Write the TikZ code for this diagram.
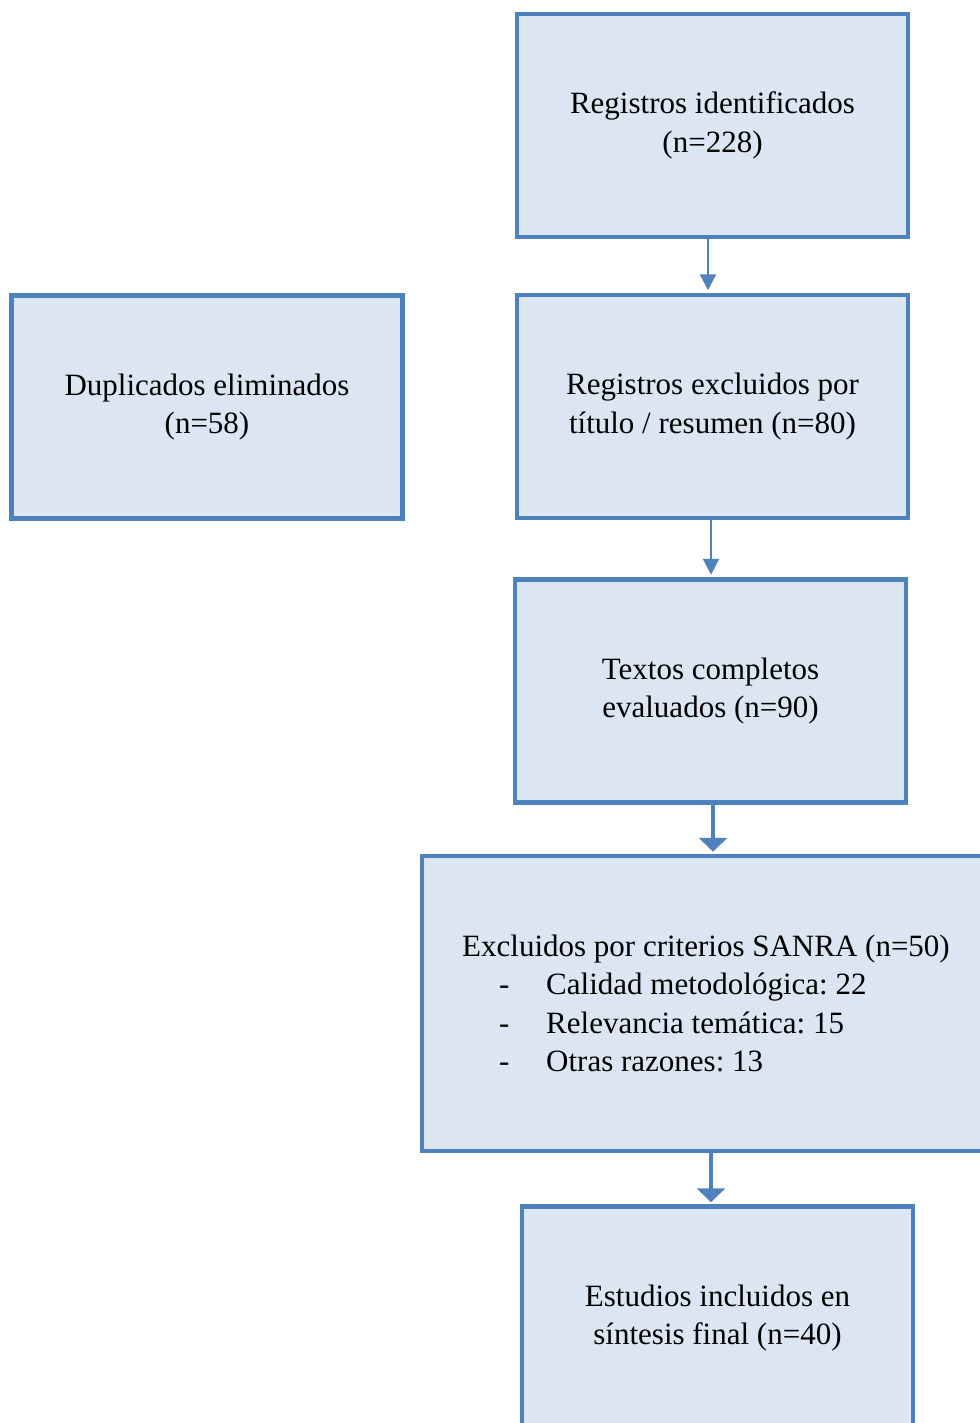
\documentclass[tikz,border=0pt]{standalone}
\usepackage{fontspec}
\setmainfont{Liberation Serif}
\frenchspacing
\usetikzlibrary{arrows.meta,positioning}
\definecolor{boxblue}{HTML}{4F81BD}
\definecolor{boxfill}{HTML}{DCE6F2}

\begin{document}
\begin{tikzpicture}[x=1pt, y=-1pt,
  box/.style={draw=boxblue, line width=4.5pt, fill=boxfill, align=center, minimum width=391pt, minimum height=223pt, inner sep=0pt, font=\fontsize{31}{38.5}\selectfont},
  arr/.style={draw=boxblue, line width=2.2pt, -{Triangle[width=16pt,length=16pt]}, shorten >=2.5pt},
  thickarr/.style={draw=boxblue, line width=4pt, -{Triangle[width=28pt,length=14pt]}, shorten >=2pt}
]
\useasboundingbox (0,0) rectangle (979,1423);
\node[box] (ident) at (712.5,125.5) {Registros identificados\\(n=228)};
\node[box] (dup) at (207,407) {Duplicados eliminados\\(n=58)};
\node[box] (excl) at (712.5,406.5) {Registros excluidos por\\título / resumen (n=80)};
\node[box] (texts) at (710.5,691) {Textos completos\\evaluados (n=90)};
\node[box, minimum width=568pt, minimum height=295pt, align=left] (sanra) at (706,1003.5) {Excluidos por criterios SANRA (n=50)\\
\hspace*{37pt}\makebox[47pt][l]{-}Calidad metodológica: 22\\
\hspace*{37pt}\makebox[47pt][l]{-}Relevancia temática: 15\\
\hspace*{37pt}\makebox[47pt][l]{-}Otras razones: 13};
\node[box] (incl) at (717.5,1318) {Estudios incluidos en\\síntesis final (n=40)};
\draw[arr] ([xshift=-4.5pt]ident.south) -- ([xshift=-4.5pt]ident.south |- excl.north);
\draw[arr] ([xshift=-1.5pt]excl.south) -- ([xshift=-1.5pt]excl.south |- texts.north);
\draw[thickarr] ([xshift=2.5pt]texts.south) -- ([xshift=2.5pt]texts.south |- sanra.north);
\draw[thickarr] ([xshift=5pt]sanra.south) -- ([xshift=5pt]sanra.south |- incl.north);
\end{tikzpicture}
\end{document}
